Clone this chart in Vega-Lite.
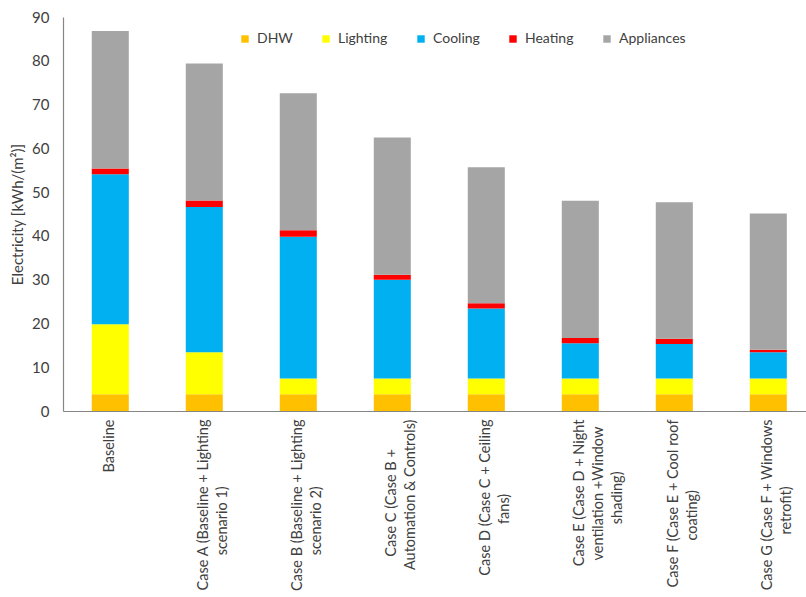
{
  "$schema": "https://vega.github.io/schema/vega-lite/v6.json",
  "autosize": {"type": "none"},
  "padding": {"left": 63, "top": 17, "right": 0, "bottom": 186},
  "width": 743,
  "height": 394,
  "background": "white",
  "config": {
    "view": {"stroke": null},
    "font": "Lato",
    "axis": {"labelFont": "Lato", "titleFont": "Lato", "domainColor": "#868686", "domainWidth": 1.2, "ticks": false, "grid": false, "labelColor": "#404040", "titleColor": "#404040"}
  },
  "data": {
    "values": [
      {"case": "Baseline", "use": "DHW", "value": 3.8},
      {"case": "Baseline", "use": "Lighting", "value": 16.0},
      {"case": "Baseline", "use": "Cooling", "value": 34.3},
      {"case": "Baseline", "use": "Heating", "value": 1.3},
      {"case": "Baseline", "use": "Appliances", "value": 31.4},
      {"case": "Case A", "use": "DHW", "value": 3.8},
      {"case": "Case A", "use": "Lighting", "value": 9.6},
      {"case": "Case A", "use": "Cooling", "value": 33.2},
      {"case": "Case A", "use": "Heating", "value": 1.5},
      {"case": "Case A", "use": "Appliances", "value": 31.3},
      {"case": "Case B", "use": "DHW", "value": 3.8},
      {"case": "Case B", "use": "Lighting", "value": 3.6},
      {"case": "Case B", "use": "Cooling", "value": 32.4},
      {"case": "Case B", "use": "Heating", "value": 1.5},
      {"case": "Case B", "use": "Appliances", "value": 31.3},
      {"case": "Case C", "use": "DHW", "value": 3.8},
      {"case": "Case C", "use": "Lighting", "value": 3.6},
      {"case": "Case C", "use": "Cooling", "value": 22.6},
      {"case": "Case C", "use": "Heating", "value": 1.1},
      {"case": "Case C", "use": "Appliances", "value": 31.4},
      {"case": "Case D", "use": "DHW", "value": 3.8},
      {"case": "Case D", "use": "Lighting", "value": 3.6},
      {"case": "Case D", "use": "Cooling", "value": 16.0},
      {"case": "Case D", "use": "Heating", "value": 1.2},
      {"case": "Case D", "use": "Appliances", "value": 31.1},
      {"case": "Case E", "use": "DHW", "value": 3.8},
      {"case": "Case E", "use": "Lighting", "value": 3.6},
      {"case": "Case E", "use": "Cooling", "value": 8.1},
      {"case": "Case E", "use": "Heating", "value": 1.2},
      {"case": "Case E", "use": "Appliances", "value": 31.3},
      {"case": "Case F", "use": "DHW", "value": 3.8},
      {"case": "Case F", "use": "Lighting", "value": 3.6},
      {"case": "Case F", "use": "Cooling", "value": 7.9},
      {"case": "Case F", "use": "Heating", "value": 1.2},
      {"case": "Case F", "use": "Appliances", "value": 31.2},
      {"case": "Case G", "use": "DHW", "value": 3.8},
      {"case": "Case G", "use": "Lighting", "value": 3.6},
      {"case": "Case G", "use": "Cooling", "value": 6.0},
      {"case": "Case G", "use": "Heating", "value": 0.6},
      {"case": "Case G", "use": "Appliances", "value": 31.1}
    ]
  },
  "transform": [
    {"calculate": "indexof(['DHW','Lighting','Cooling','Heating','Appliances'], datum.use)", "as": "stackOrder"}
  ],
  "mark": {"type": "bar"},
  "encoding": {
    "x": {
      "field": "case",
      "type": "nominal",
      "sort": null,
      "scale": {"paddingInner": 0.606, "paddingOuter": 0.255, "align": 0.6},
      "axis": {
        "title": null,
        "labelAngle": 270,
        "labelAlign": "right",
        "labelBaseline": "middle",
        "labelPadding": 8,
        "labelFontSize": 14.5,
        "labelLineHeight": 19,
        "labelLimit": 400,
        "labelExpr": "datum.value == 'Baseline' ? 'Baseline' : datum.value == 'Case A' ? ['Case A (Baseline + Lighting', pad('scenario 1)', 29, '\u00a0') + '\u200b'] : datum.value == 'Case B' ? ['Case B (Baseline + Lighting', pad('scenario 2)', 29, '\u00a0') + '\u200b'] : datum.value == 'Case C' ? [pad('Case C (Case B +', 24, '\u00a0') + '\u200b', 'Automation & Controls)'] : datum.value == 'Case D' ? ['Case D (Case C + Ceiling', pad('fans)', 25, '\u00a0') + '\u200b'] : datum.value == 'Case E' ? ['Case E (Case D + Night', pad('ventilation +Window', 21, '\u00a0') + '\u200b', pad('shading)', 22, '\u00a0') + '\u200b'] : datum.value == 'Case F' ? ['Case F (Case E + Cool roof', pad('coating)', 27, '\u00a0') + '\u200b'] : ['Case G (Case F + Windows', pad('retrofit)', 27, '\u00a0') + '\u200b']"
      }
    },
    "y": {
      "field": "value",
      "type": "quantitative",
      "stack": "zero",
      "scale": {"domain": [0, 90], "nice": false},
      "axis": {
        "title": "Electricity [kWh/(m²)]",
        "values": [0, 10, 20, 30, 40, 50, 60, 70, 80, 90],
        "labelFontSize": 15,
        "labelPadding": 14,
        "titleFontSize": 15,
        "titleFontWeight": "normal",
        "titlePadding": 6
      }
    },
    "color": {
      "field": "use",
      "type": "nominal",
      "scale": {
        "domain": ["DHW", "Lighting", "Cooling", "Heating", "Appliances"],
        "range": ["#FFC000", "#FFFF00", "#00B0F0", "#FF0000", "#A5A5A5"]
      },
      "legend": {
        "title": null,
        "orient": "none",
        "legendX": 175,
        "legendY": 15,
        "direction": "horizontal",
        "symbolType": "square",
        "symbolSize": 55,
        "symbolStrokeWidth": 0,
        "labelFontSize": 14,
        "labelColor": "#404040",
        "labelOffset": 5,
        "columnPadding": 26
      }
    },
    "order": {"field": "stackOrder", "type": "quantitative"}
  }
}
